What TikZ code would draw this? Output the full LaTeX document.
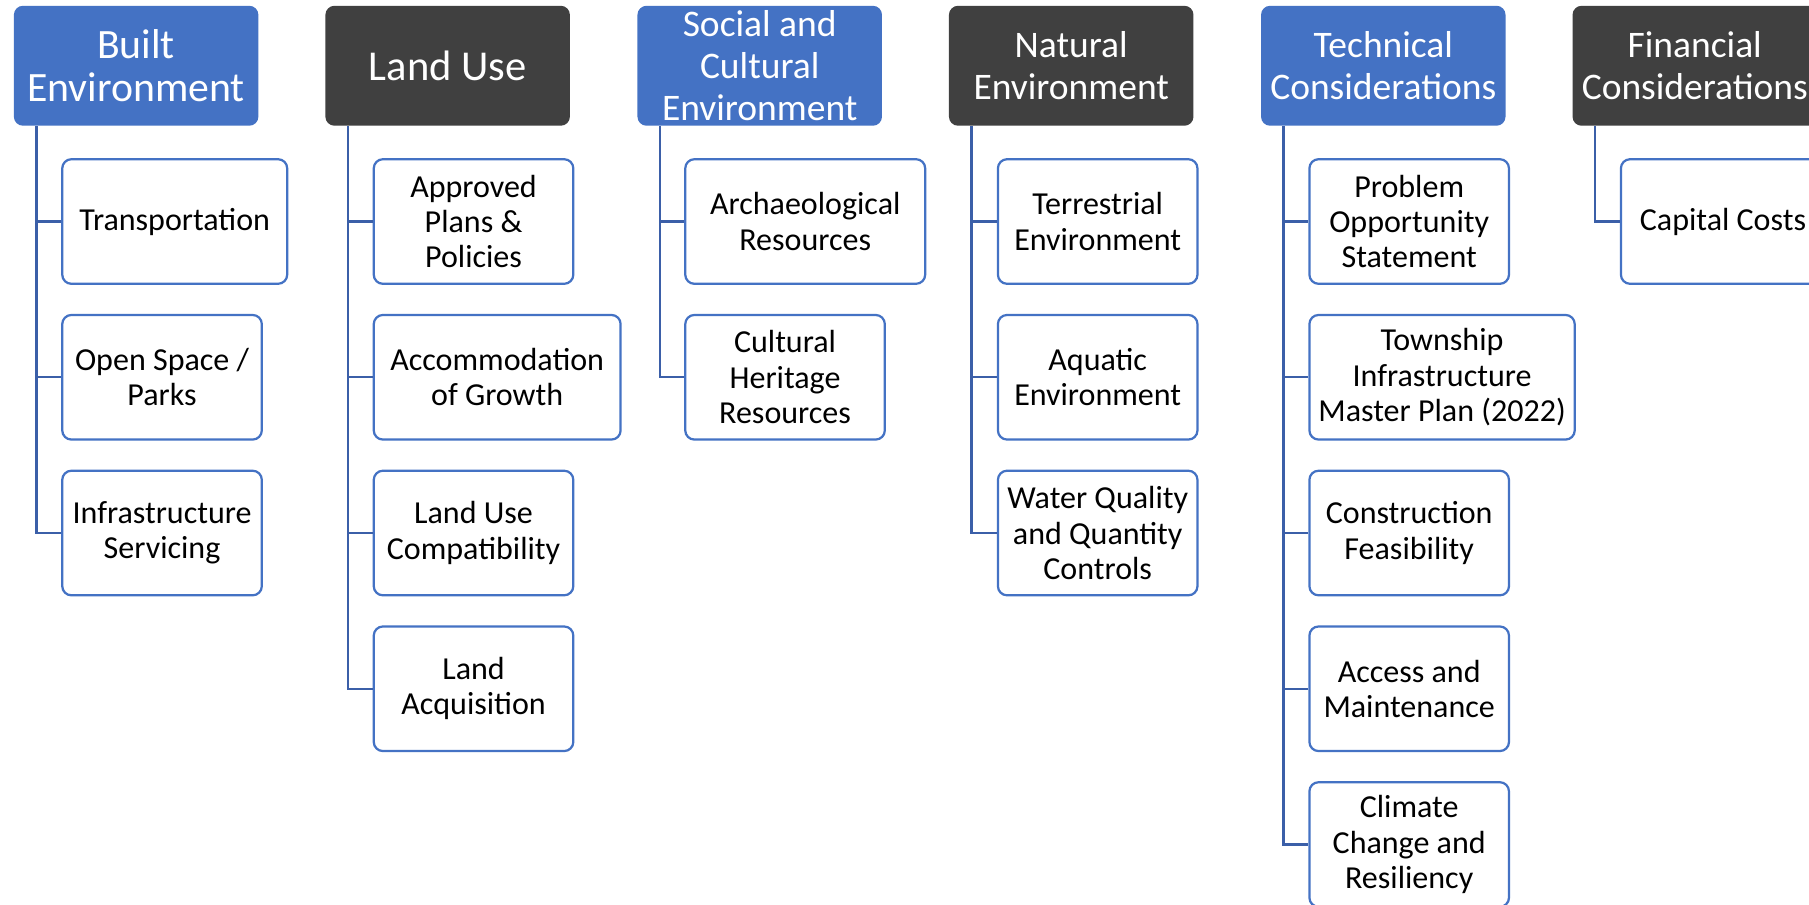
\documentclass[tikz,border=0pt]{standalone}
\usepackage{fontspec}
\setmainfont{Carlito}
\usetikzlibrary{positioning}

\definecolor{hdblue}{HTML}{4472C4}
\definecolor{hdgrey}{HTML}{404040}
\definecolor{lnblue}{HTML}{3B5FA8}

\tikzset{
  header/.style={rounded corners=4.5pt, minimum width=4.24cm, minimum height=2.08cm,
    align=center, text=white, font=\fontsize{18.5}{20.8}\selectfont, inner sep=0pt},
  blueh/.style={header, fill=hdblue},
  greyh/.style={header, fill=hdgrey},
  child/.style={draw=hdblue, line width=1.1pt, rounded corners=4.5pt, fill=white,
    minimum width=3.46cm, minimum height=2.16cm, align=center, anchor=west,
    inner xsep=1pt, font=\fontsize{15.8}{17.4}\selectfont},
  conn/.style={draw=lnblue, line width=1.2pt}
}

\begin{document}
\begin{tikzpicture}[x=0.02cm, y=-0.02cm]
      \clip (0,0) rectangle (1568,784);
      \fill[white] (0,0) rectangle (1568,784);
      % headers
      \node[blueh, font=\fontsize{20.6}{21.6}\selectfont] (built) at (118,57) {Built\\Environment};
      \node[greyh, font=\fontsize{21}{22}\selectfont] (land) at (388,57) {Land Use};
      \node[blueh] (social) at (658.5,57) {Social and\\Cultural\\Environment};
      \node[greyh] (natural) at (928.5,57) {Natural\\Environment};
      \node[blueh] (tech) at (1199,57) {Technical\\Considerations};
      \node[greyh] (fin) at (1469,57) {Financial\\Considerations};
      % built environment
      \node[child, minimum width=3.9cm] (built1) at (53,192) {Transportation};
      \node[child] (built2) at (53,327) {Open Space /\\Parks};
      \node[child] (built3) at (53,462) {Infrastructure\\Servicing};
      % land use
      \node[child] (land1) at (323,192) {Approved\\Plans \&\\Policies};
      \node[child, minimum width=4.28cm] (land2) at (323,327) {Accommodation\\of Growth};
      \node[child] (land3) at (323,462) {Land Use\\Compatibility};
      \node[child] (land4) at (323,597) {Land\\Acquisition};
      % social and cultural
      \node[child, minimum width=4.16cm] (social1) at (593,192) {Archaeological\\Resources};
      \node[child] (social2) at (593,327) {Cultural\\Heritage\\Resources};
      % natural
      \node[child] (natural1) at (864,192) {Terrestrial\\Environment};
      \node[child] (natural2) at (864,327) {Aquatic\\Environment};
      \node[child] (natural3) at (864,462) {Water Quality\\and Quantity\\Controls};
      % technical
      \node[child] (tech1) at (1134,192) {Problem\\Opportunity\\Statement};
      \node[child, minimum width=4.6cm] (tech2) at (1134,327) {Township\\Infrastructure\\Master Plan (2022)};
      \node[child] (tech3) at (1134,462) {Construction\\Feasibility};
      \node[child] (tech4) at (1134,597) {Access and\\Maintenance};
      \node[child] (tech5) at (1134,732) {Climate\\Change and\\Resiliency};
      % financial
      \node[child, minimum width=3.54cm] (fin1) at (1404,192) {Capital Costs};
      % connectors
      \draw[conn] ([xshift=0.4cm]built.south west) |- (built1.west);
      \draw[conn] ([xshift=0.4cm]built.south west) |- (built2.west);
      \draw[conn] ([xshift=0.4cm]built.south west) |- (built3.west);
      \draw[conn] ([xshift=0.4cm]land.south west) |- (land1.west);
      \draw[conn] ([xshift=0.4cm]land.south west) |- (land2.west);
      \draw[conn] ([xshift=0.4cm]land.south west) |- (land3.west);
      \draw[conn] ([xshift=0.4cm]land.south west) |- (land4.west);
      \draw[conn] ([xshift=0.4cm]social.south west) |- (social1.west);
      \draw[conn] ([xshift=0.4cm]social.south west) |- (social2.west);
      \draw[conn] ([xshift=0.4cm]natural.south west) |- (natural1.west);
      \draw[conn] ([xshift=0.4cm]natural.south west) |- (natural2.west);
      \draw[conn] ([xshift=0.4cm]natural.south west) |- (natural3.west);
      \draw[conn] ([xshift=0.4cm]tech.south west) |- (tech1.west);
      \draw[conn] ([xshift=0.4cm]tech.south west) |- (tech2.west);
      \draw[conn] ([xshift=0.4cm]tech.south west) |- (tech3.west);
      \draw[conn] ([xshift=0.4cm]tech.south west) |- (tech4.west);
      \draw[conn] ([xshift=0.4cm]tech.south west) |- (tech5.west);
      \draw[conn] ([xshift=0.4cm]fin.south west) |- (fin1.west);
    \end{tikzpicture}
\end{document}
